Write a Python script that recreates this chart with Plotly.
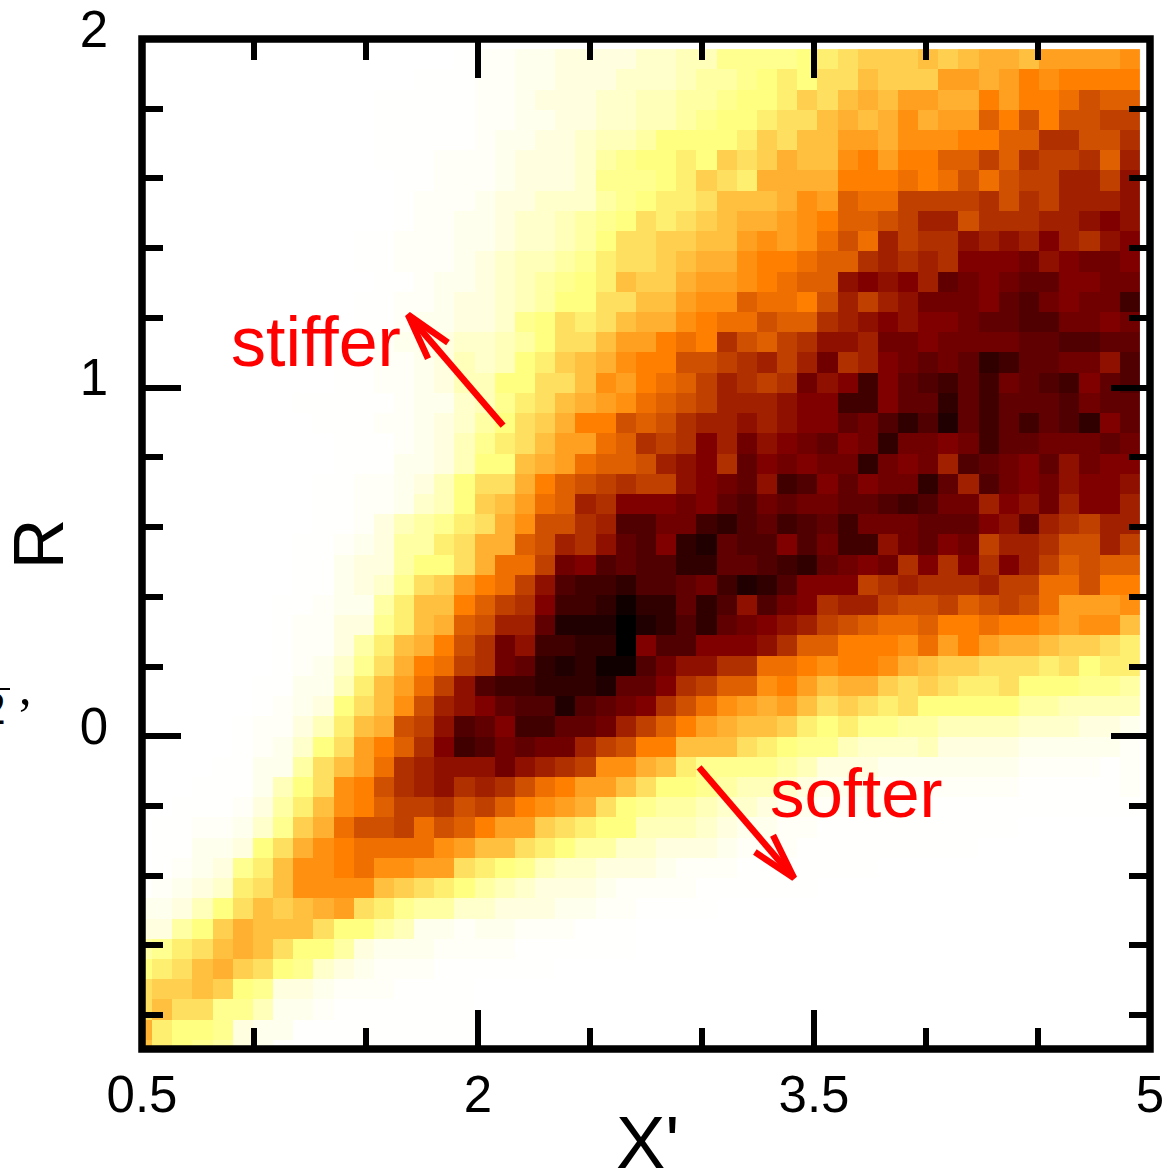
import plotly.graph_objects as go

# Cell shade codes per row (top row first).
# '.'=very faint, 0-8 white to yellow, 8-g yellow to orange, g-o orange to dark red, o-w dark red to black
ROWS = [
"0000000000000000. 11223333445577778 9abbbcbcddceeeef",
"00000000000000... 11223334445667898 aacbbbeedegfgggg",
"000000000000..... 1123334455667889b acdceeddgegghjii",
"000000000000..... 112233445567889aa cdcdfdeeigjgjjkk",
"000000000000..... 12233455688889bac ceedfffggiilljjl",
"000000000000...11 123334678898babdc cfgeggiikilkklim",
"0000000000000..11 12333477789ba9ddd dggghghjhjkkmmkn",
"0000000000000.111 23344467899acccdf eihhkkkkljlkmmmn",
"0000000000000.112 23445678a9abcddef giijkmmjlllmmnon",
"00000000000..1112 2344568aabbccefef hjhmkllnmnmomlno",
"00000000000..1112 3455679aabcddfggh iilmlmlooopnoppo",
"000000000000..122 3456789cbbdeefghi inonomqpopqqoopp",
"00000000000..1123 345688aacceffihhg jmkmnpppoqrpopps",
"00000000000..1223 3478a9acddfghhjii lmnonoopqqrrppop",
"0000000000..12234 4568aaceeghgljikl nnmppoppppqqrrqq",
"0000000000..11235 4589bcdfggjjklmkm plmopqpqtsqqppnr",
"0000000000..11235 588aacfeghikmlklp nosoqrsqspqrsoqr",
"00000000.....1224 579acdefhijkmmmno ossoqqtqsqqqrpqq",
"000000000...11234 68abdggjijlmmnmno oqprtruqsqsqrtoq",
"0000000000...1235 79aceehilklompnop qoptppopsqqpppqp",
"0000000000...2235 88cdehiijmnolqopo pptpopmrqpoqnpoo",
"000000000..112358 aadgijklkknopqnsr oqopptqmrpopnoon",
"000000000..112458 bcehimlooopoqrpqp pqqrsrppmonpmoom",
"000000000..135679 adfjjlmrrppstrqsr qspppqqqonqmlkmm",
"00000000..123669a ddijmlnqrotuqrror pssnpqopkmmljjmk",
"00000000..233688a dhhkporqrrttqqrst qpoplololomkijii",
"00000000..2347abe ghknrsstrrqpsutro ooklmlllmkkhhjgg",
"0000000..12269ccg iklosstvttqtrnrpo lmmkjjkijkjheeef",
"0000000.113379cdi jmmquuuwutrtqponm kjihhigghggfeffc",
"0000000.11369cdgj lpnssttworrooonli igggfhegeddcbba9",
"0000000.1247adghk lpqtutvvrpnnllhhg fggfdcbbaaa9a899",
"000000..2259cehkn rsstttuqqolkiifge cddbaba99a888776",
"000000.1238acfjmn oqrrurqpoljhfedec aba9a88888665555",
"00000.11359cdjknr qossqqpmkigedccb9 8977665555444332",
"00000.1248aegilos rpqppmkjggccca987 7544453333222221",
"0000..226acehlmnn npnmlkffdc9777765 33322222221111.1",
"000...258afgjlmnl mljhgeeca88765543 2221111111.....1",
"00...1369cfgikklj kigfeda8766544322 1111............",
"0..11247bdhjjkhji geeba988555432211 ..........000000",
"0..2238adfghhhhfe cca9866443332111. ........00000000",
"0.12379cffghffeea 9875443332111.... ...0000000000000",
".12349acffffcba98 65433321111...... 0000000000000000",
"22358acbcdea97664 43332211....00000 0000000000000000",
"3368bdccca8865221 22111...000000000 0000000000000000",
"679acdca886322211 11......000000000 0000000000000000",
"89acdba87432111.. ....0000000000000 0000000000000000",
"abbcb87332111.... 00000000000000000 0000000000000000",
"acaa775221....... 00000000000000000 0000000000000000",
"d9887322......... 00000000000000000 0000000000000000",
"c987632.000000000 00000000000000000 0000000000000000",
]

X_CENTERS = [0.5 + 0.09 * i for i in range(50)]
Y_CENTERS = [-0.9 + 0.058 * (49 - i) for i in range(50)]

COLOR_STOPS = [(0.0, "#ffffff"), (0.25, "#ffff80"), (0.5, "#ff8000"), (0.75, "#800000"), (1.0, "#000000")]

STIFFER_ARROW_X = [2.112, 1.6875, None, 1.866, 1.6875, 1.777]
STIFFER_ARROW_Y = [0.891, 1.209, None, 1.129, 1.209, 1.083]
SOFTER_ARROW_X = [2.987, 3.411, None, 3.317, 3.411, 3.236]
SOFTER_ARROW_Y = [-0.089, -0.407, None, -0.284, -0.407, -0.332]

CODES = "0123456789abcdefghijklmnopqrstuvw"
LOW_LEVELS = {".": 0.15, "1": 0.5, "2": 1.1, "3": 2.0, "4": 3.2, "5": 4.4, "6": 5.8}


def decode(row):
    cells = row.replace(" ", "")
    assert len(cells) == 50, (row, len(cells))
    return [LOW_LEVELS.get(c, float(CODES.index(c)) if c != "." else 0) for c in cells]


z = [decode(r) for r in ROWS]
assert len(z) == 50

fig = go.Figure()
fig.add_trace(go.Heatmap(x=X_CENTERS, y=Y_CENTERS, z=z, zmin=0, zmax=32,
                         colorscale=[[a, b] for a, b in COLOR_STOPS],
                         showscale=False, hoverinfo="skip"))
for xs, ys in ((STIFFER_ARROW_X, STIFFER_ARROW_Y), (SOFTER_ARROW_X, SOFTER_ARROW_Y)):
    fig.add_trace(go.Scatter(x=xs, y=ys, mode="lines", showlegend=False, hoverinfo="skip",
                             line=dict(color="#ff0000", width=6.5)))

FONT = "Liberation Sans"
SERIF = "Liberation Serif"
axis_common = dict(showgrid=False, zeroline=False, showline=False,
                   mirror="allticks", ticks="inside", ticklen=39, tickwidth=6, tickcolor="black",
                   automargin=False,
                   tickfont=dict(family=FONT, size=51, color="black"))
minor_common = dict(ticks="inside", ticklen=21, tickwidth=6, tickcolor="black")

W_PLOT = 1008.0
H_PLOT = 1010.0


def px_x(px):
    return (px - 142) / W_PLOT


def px_y(py):
    return (1049 - py) / H_PLOT


fig.update_layout(
    width=1168, height=1170, autosize=False,
    margin=dict(l=142, r=18, t=39, b=121),
    paper_bgcolor="white", plot_bgcolor="white", showlegend=False,
    xaxis=dict(range=[0.5, 5.0], tickmode="array", tickvals=[0.5, 2, 3.5, 5], ticktext=["0.5", "2", "3.5", "5"],
               minor=dict(dtick=0.5, tick0=0.5, **minor_common),
               ticklabelstandoff=11,
               **axis_common),
    yaxis=dict(range=[-0.897, 2.0], tickmode="array", tickvals=[0, 1, 2], ticktext=["0", "1", "2"],
               minor=dict(dtick=0.2, tick0=0, **minor_common),
               ticklabelstandoff=33, ticklabelshift=-10,
               title=dict(text="R", font=dict(family=FONT, size=70, color="black"), standoff=1),
               **axis_common),
    shapes=[
        dict(type="rect", xref="paper", yref="paper", x0=0, x1=1, y0=0, y1=1, layer="above",
             line=dict(color="black", width=7.5), fillcolor="rgba(0,0,0,0)"),
        dict(type="line", xref="paper", yref="paper", x0=px_x(0), x1=px_x(10), y0=px_y(689), y1=px_y(689),
             line=dict(color="black", width=2)),
    ],
    annotations=[
        dict(text="X'", x=px_x(648), y=px_y(1142), xref="paper", yref="paper", xanchor="center", yanchor="middle",
             showarrow=False, font=dict(family=FONT, size=74, color="black")),
        dict(text="stiffer", x=1.277, y=1.132, xref="x", yref="y", showarrow=False,
             font=dict(family=FONT, size=70, color="#ff0000")),
        dict(text="softer", x=3.691, y=-0.164, xref="x", yref="y", showarrow=False,
             font=dict(family=FONT, size=69, color="#ff0000")),
        dict(text="2", x=px_x(8), y=px_y(709), xref="paper", yref="paper", xanchor="right", yanchor="middle",
             showarrow=False, font=dict(family=SERIF, size=46, color="black")),
        dict(text=",", x=px_x(25), y=px_y(687), xref="paper", yref="paper", xanchor="center", yanchor="middle",
             showarrow=False, font=dict(family=SERIF, size=50, color="black")),
    ],
)

fig.write_html("out.html", config={"displayModeBar": False},
               post_script="document.body.style.margin='0';")
